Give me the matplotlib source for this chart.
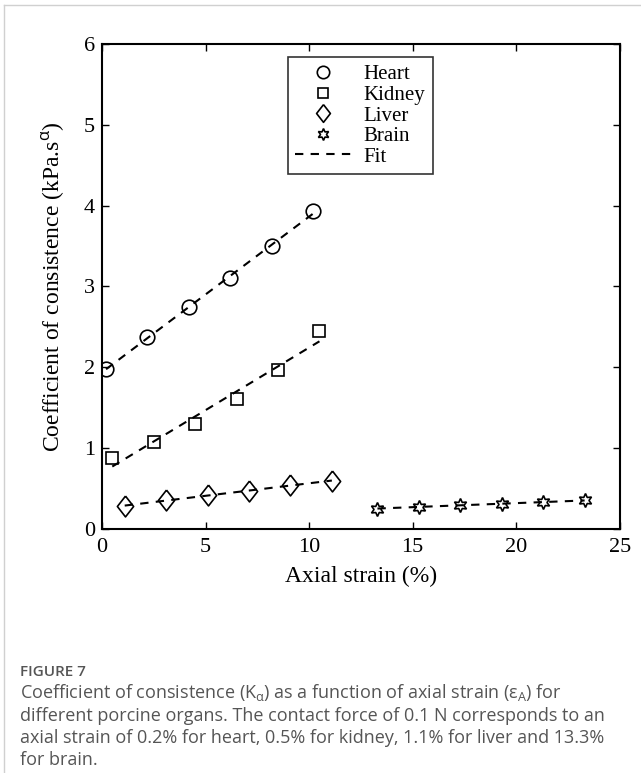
import numpy as np
from matplotlib import pyplot as plt
from matplotlib.lines import Line2D

# data
heart_x = [0.2, 2.2, 4.2, 6.2, 8.2, 10.2]
heart_y = [1.98, 2.37, 2.75, 3.10, 3.50, 3.93]
kidney_x = [0.5, 2.5, 4.5, 6.5, 8.5, 10.5]
kidney_y = [0.88, 1.07, 1.30, 1.60, 1.97, 2.45]
liver_x = [1.1, 3.1, 5.1, 7.1, 9.1, 11.1]
liver_y = [0.28, 0.35, 0.42, 0.47, 0.54, 0.59]
brain_x = [13.3, 15.3, 17.3, 19.3, 21.3, 23.3]
brain_y = [0.25, 0.27, 0.29, 0.31, 0.33, 0.35]

organs = ['Heart', 'Kidney', 'Liver', 'Brain']
series = [(heart_x, heart_y), (kidney_x, kidney_y), (liver_x, liver_y), (brain_x, brain_y)]
diamond = [(0, 1), (0.78, 0), (0, -1), (-0.78, 0), (0, 1)]
markers = ['o', 's', diamond, (6, 1, 0)]
sizes = [10.5, 8.5, 15, 10]

serif = ['Liberation Serif', 'DejaVu Serif']
dash = (0, (4, 3.5))

plt.rcParams['mathtext.fontset'] = 'custom'
plt.rcParams['mathtext.rm'] = 'Open Sans'
plt.rcParams['mathtext.it'] = 'Open Sans'

fig = plt.figure(figsize=(6.41, 7.73), dpi=100)
ax = fig.add_axes([0.159, 0.316, 0.808, 0.627])

for (xs, ys), m, s in zip(series, markers, sizes):
    # linear fit through each organ's points
    k, b = np.polyfit(xs, ys, 1)
    xs = np.array(xs)
    ax.plot(xs, k * xs + b, color='black', linestyle=dash, lw=1.5)
    ax.plot(xs, ys, linestyle='none', marker=m, ms=s, mfc='none', mec='black', mew=1.2)

ax.set_xlim(0, 25)
ax.set_ylim(0, 6)
ax.set_xticks([0, 5, 10, 15, 20, 25])
ax.set_yticks([0, 1, 2, 3, 4, 5, 6])
ax.tick_params(direction='in', top=True, right=True, length=5, width=1, labelsize=16)
ax.tick_params(axis='x', pad=7)
ax.tick_params(axis='y', pad=5)
for lab in ax.get_xticklabels() + ax.get_yticklabels():
    lab.set_family(serif)
for sp in ax.spines.values():
    sp.set_linewidth(1.5)

ax.set_xlabel('Axial strain (%)', family=serif, fontsize=17, labelpad=6)
ax.set_ylabel('Coefficient of consistence (kPa.s$^{\\alpha}$)', family=serif, fontsize=17, labelpad=12)

handles = [Line2D([], [], linestyle='none', marker=m, ms=s * 0.85, mfc='none', mec='black', mew=1.2)
           for m, s in zip(markers, sizes)]
handles.append(Line2D([], [], color='black', linestyle=dash, lw=1.5))
leg = ax.legend(handles, organs + ['Fit'], loc='upper center', bbox_to_anchor=(0.499, 0.994),
                prop={'family': serif, 'size': 15}, frameon=True, fancybox=False,
                edgecolor='black', handlelength=2.7, handletextpad=0.6,
                labelspacing=0.05, borderpad=0.35)
leg.get_frame().set_linewidth(1.2)

# page frame lines
fig.add_artist(Line2D([0.006, 0.006], [0, 0.994], color='#d0d0d0', lw=1, transform=fig.transFigure))
fig.add_artist(Line2D([0.006, 1], [0.994, 0.994], color='#d0d0d0', lw=1, transform=fig.transFigure))

cap_font = ['Open Sans', 'DejaVu Sans']
fig.text(0.031, 0.131, 'FIGURE 7', family=cap_font, fontsize=11, color='#555555',
         weight='semibold', va='center')
fig.text(0.031, 0.118,
         'Coefficient of consistence (K$_{\\alpha}$) as a function of axial strain (ε$_{A}$) for\n'
         'different porcine organs. The contact force of 0.1 N corresponds to an\n'
         'axial strain of 0.2% for heart, 0.5% for kidney, 1.1% for liver and 13.3%\n'
         'for brain.',
         family=cap_font, fontsize=13, color='#555555', linespacing=1.28, va='top')

fig.savefig('out.png', dpi=100)
